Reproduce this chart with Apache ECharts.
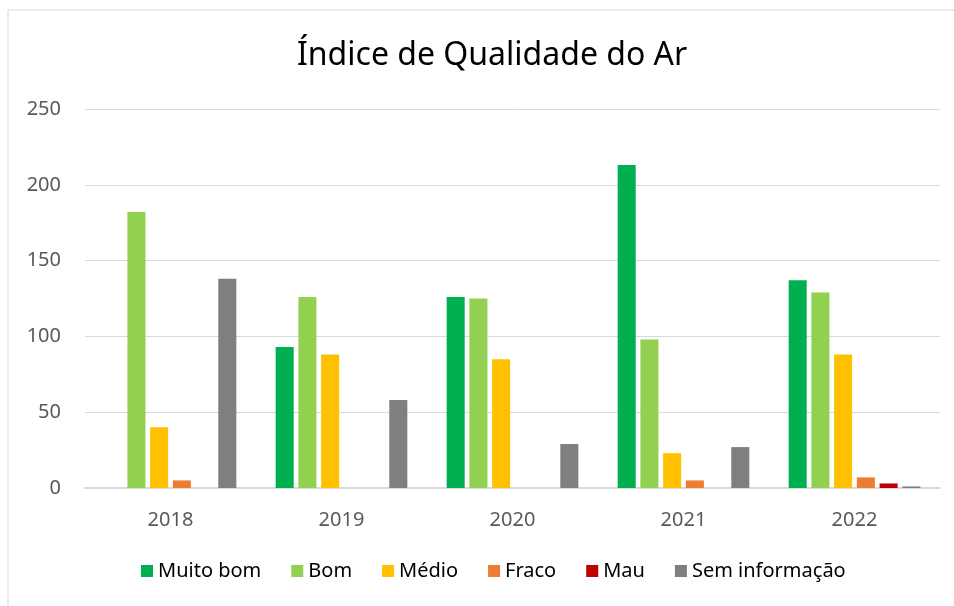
<!DOCTYPE html>
<html>
<head>
<meta charset="utf-8">
<title>Índice de Qualidade do Ar</title>
<script src="https://cdn.jsdelivr.net/npm/echarts@6/dist/echarts.min.js"></script>
<style>
    html, body { margin: 0; padding: 0; background: #fff; }
    #chart { width: 954px; height: 606px; }
</style>
</head>
<body>
<div id="chart"></div>
<script>
// 年份
const years = ['2018', '2019', '2020', '2021', '2022'];

// 各等级天数
const muitoBom = [0, 93, 126, 213, 137];
const bom = [182, 126, 125, 98, 129];
const medio = [40, 88, 85, 23, 88];
const fraco = [5, 0, 0, 5, 7];
const mau = [0, 0, 0, 0, 3];
const semInfo = [138, 58, 29, 27, 1];

const seriesNames = ['Muito bom', 'Bom', 'Médio', 'Fraco', 'Mau', 'Sem informação'];
const seriesColors = ['#00b050', '#92d050', '#ffc000', '#ed7d31', '#c00000', '#7f7f7f'];
const seriesData = [muitoBom, bom, medio, fraco, mau, semInfo];

const yTicks = [0, 50, 100, 150, 200, 250];

const FONT = '"Noto Sans", "Open Sans", sans-serif';

const chart = echarts.init(document.getElementById('chart'));

const option = {
    animation: false,
    backgroundColor: '#fff',
    textStyle: { fontFamily: FONT },
    title: {
        text: 'Índice de Qualidade do Ar',
        left: 292,
        top: 35,
        textStyle: {
            fontFamily: FONT,
            fontSize: 32,
            fontWeight: 'normal',
            color: '#000'
        }
    },
    // 外边框（左、上）
    graphic: [
        {
            type: 'polyline',
            shape: { points: [[8, 700], [8, 10], [1000, 10]] },
            style: { stroke: '#d9d9d9', lineWidth: 1, fill: null }
        }
    ],
    legend: {
        bottom: 20,
        left: 136,
        itemWidth: 12,
        itemHeight: 12,
        itemGap: 30,
        icon: 'rect',
        data: seriesNames,
        textStyle: {
            fontFamily: FONT,
            fontSize: 20,
            color: '#000'
        }
    },
    grid: {
        left: 85,
        right: 14,
        top: 109,
        bottom: 118,
        containLabel: false
    },
    xAxis: {
        type: 'category',
        data: years,
        axisLine: { lineStyle: { color: '#d9d9d9', width: 2 } },
        axisTick: { show: false },
        axisLabel: {
            fontFamily: FONT,
            fontSize: 20,
            color: '#595959',
            margin: 22
        }
    },
    yAxis: {
        type: 'value',
        min: yTicks[0],
        max: yTicks[yTicks.length - 1],
        interval: 50,
        axisLine: { show: false },
        axisTick: { show: false },
        splitLine: { lineStyle: { color: '#d9d9d9', width: 1 } },
        axisLabel: {
            fontFamily: FONT,
            fontSize: 20,
            color: '#595959',
            margin: 24
        }
    },
    series: seriesNames.map(function (name, i) {
        return {
            name: name,
            type: 'bar',
            data: seriesData[i],
            barGap: '26%',
            barCategoryGap: '23%',
            itemStyle: { color: seriesColors[i] }
        };
    })
};

chart.setOption(option);
</script>
</body>
</html>
